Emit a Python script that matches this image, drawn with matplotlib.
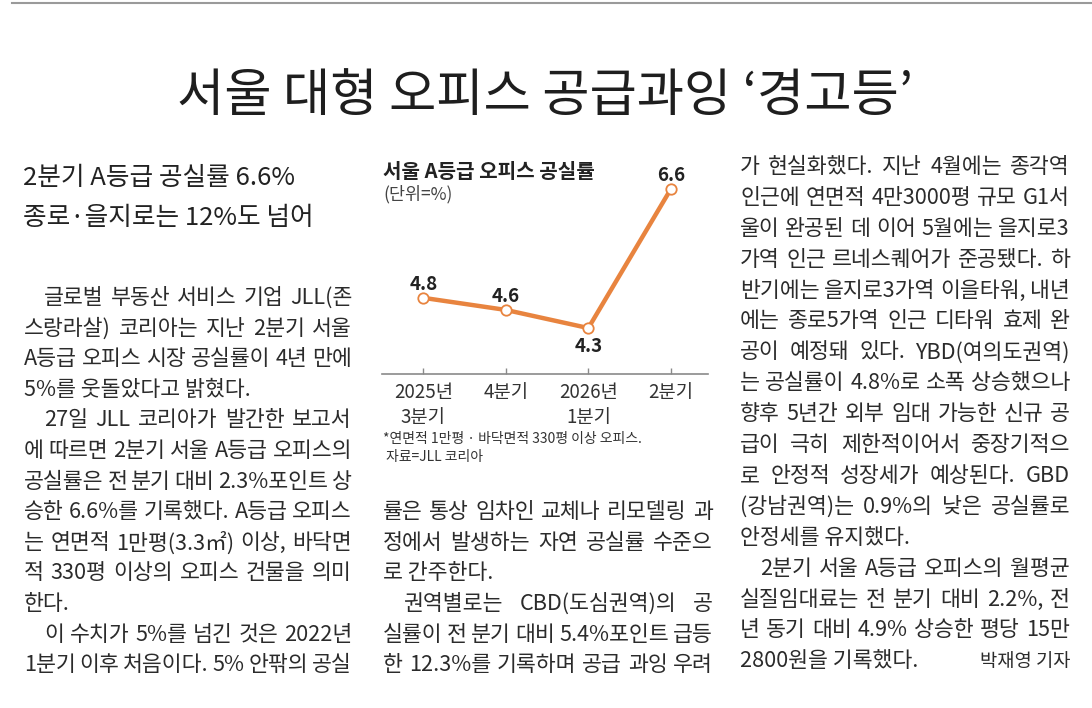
import matplotlib
matplotlib.use('Agg')
import matplotlib.pyplot as plt

plt.rcParams['font.family'] = ['Noto Sans CJK KR', 'DejaVu Sans']

# 차트 데이터
quarters = ['2025년\n3분기', '4분기', '2026년\n1분기', '2분기']
vacancy = [4.8, 4.6, 4.3, 6.6]

headline = '서울 대형 오피스 공급과잉 ‘경고등’'
subhead = ['2분기 A등급 공실률 6.6%', '종로·을지로는 12%도 넘어']
chart_title = '서울 A등급 오피스 공실률'
chart_unit = '(단위=%)'
chart_notes = ['*연면적 1만평 · 바닥면적 330평 이상 오피스.', '자료=JLL 코리아']
byline = '박재영 기자'

# 본문 (문장, 형식) : 'i' 들여쓰기, 'e' 문단 끝(양쪽맞춤 안함)
left_lines = [
    ('글로벌 부동산 서비스 기업 JLL(존', 'i'),
    ('스랑라살) 코리아는 지난 2분기 서울', ''),
    ('A등급 오피스 시장 공실률이 4년 만에', ''),
    ('5%를 웃돌았다고 밝혔다.', 'e'),
    ('27일 JLL 코리아가 발간한 보고서', 'i'),
    ('에 따르면 2분기 서울 A등급 오피스의', ''),
    ('공실률은 전 분기 대비 2.3%포인트 상', ''),
    ('승한 6.6%를 기록했다. A등급 오피스', ''),
    ('는 연면적 1만평(3.3㎡) 이상, 바닥면', ''),
    ('적 330평 이상의 오피스 건물을 의미', ''),
    ('한다.', 'e'),
    ('이 수치가 5%를 넘긴 것은 2022년', 'i'),
    ('1분기 이후 처음이다. 5% 안팎의 공실', ''),
]
mid_lines = [
    ('률은 통상 임차인 교체나 리모델링 과', ''),
    ('정에서 발생하는 자연 공실률 수준으', ''),
    ('로 간주한다.', 'e'),
    ('권역별로는 CBD(도심권역)의 공', 'i'),
    ('실률이 전 분기 대비 5.4%포인트 급등', ''),
    ('한 12.3%를 기록하며 공급 과잉 우려', ''),
]
right_lines = [
    ('가 현실화했다. 지난 4월에는 종각역', ''),
    ('인근에 연면적 4만3000평 규모 G1서', ''),
    ('울이 완공된 데 이어 5월에는 을지로3', ''),
    ('가역 인근 르네스퀘어가 준공됐다. 하', ''),
    ('반기에는 을지로3가역 이을타워, 내년', ''),
    ('에는 종로5가역 인근 디타워 효제 완', ''),
    ('공이 예정돼 있다. YBD(여의도권역)', ''),
    ('는 공실률이 4.8%로 소폭 상승했으나', ''),
    ('향후 5년간 외부 임대 가능한 신규 공', ''),
    ('급이 극히 제한적이어서 중장기적으', ''),
    ('로 안정적 성장세가 예상된다. GBD', ''),
    ('(강남권역)는 0.9%의 낮은 공실률로', ''),
    ('안정세를 유지했다.', 'e'),
    ('2분기 서울 A등급 오피스의 월평균', 'i'),
    ('실질임대료는 전 분기 대비 2.2%, 전', ''),
    ('년 동기 대비 4.9% 상승한 평당 15만', ''),
    ('2800원을 기록했다.', 'e'),
]

W, H = 1092, 708
INK = '#2b2b2b'
ORANGE = '#e8843f'

fig = plt.figure(figsize=(W / 100, H / 100), dpi=100)
fig.patch.set_facecolor('white')
renderer = fig.canvas.get_renderer()


def put(x, y, s, size, **kw):
    kw.setdefault('color', INK)
    kw.setdefault('va', 'center')
    return fig.text(x / W, 1 - y / H, s, fontsize=size, **kw)


def set_line(x0, x1, y, s, size=15.6, style=''):
    if style == 'i':
        x0 += 20
    words = s.split(' ')
    if style == 'e' or len(words) == 1:
        put(x0, y, s, size)
        return
    while True:
        arts = [put(x0, y, w, size) for w in words]
        widths = [a.get_window_extent(renderer=renderer).width for a in arts]
        gap = (x1 - x0 - sum(widths)) / (len(words) - 1)
        if gap >= 3 or size < 11:
            break
        for a in arts:
            a.remove()
        size -= 0.3
    x = x0
    for a, w in zip(arts, widths):
        a.set_x(x / W)
        x += w + gap


# 윗줄
fig.add_artist(plt.Line2D([12 / W, 1], [1 - 3 / H, 1 - 3 / H], color='#9a9a9a', lw=1.5))

# 제목
put(545, 96, headline, 37, ha='center', color='#1e1e1e')
put(23, 178, subhead[0], 18.5, color='#222222')
put(23, 218, subhead[1], 18.5, color='#222222')

# 본문
step = 30.6
for i, (s, st) in enumerate(left_lines):
    set_line(24, 352, 298 + step * i, s, style=st)
for i, (s, st) in enumerate(mid_lines):
    set_line(383, 713, 298 + step * (i + 7), s, style=st)
for i, (s, st) in enumerate(right_lines):
    set_line(740, 1070, 167 + 30.9 * i, s, style=st)
put(1070, 167 + 30.9 * 16, byline, 13.5, ha='right')

# 그래프
ax_l, ax_r, ax_t, ax_b = 382, 708, 160, 374
ax = fig.add_axes([ax_l / W, (H - ax_b) / H, (ax_r - ax_l) / W, (ax_b - ax_t) / H])
ax.set_facecolor('none')
xs = list(range(len(vacancy)))
ax.plot(xs, vacancy, color=ORANGE, lw=3.2, marker='o', ms=7.5, mfc='white',
        mec=ORANGE, mew=1.3, clip_on=False, zorder=3, solid_joinstyle='round')
for x, v in zip(xs, vacancy):
    dy = -13 if v == min(vacancy) else 9.5
    ax.annotate(f'{v}', (x, v), xytext=(0, dy), textcoords='offset points',
                ha='center', va='center', fontsize=13.5, fontweight='bold', color='#222222')
ax.set_xlim(-0.5, 3.45)
ax.set_ylim(3.54, 7.08)
for side in ['top', 'left', 'right']:
    ax.spines[side].set_visible(False)
ax.spines['bottom'].set_color('#8a8a8a')
ax.spines['bottom'].set_linewidth(1.2)
ax.set_yticks([])
ax.set_xticks(xs)
ax.set_xticklabels(quarters, fontsize=13.5, color='#333333', linespacing=1.2)
ax.tick_params(axis='x', direction='in', length=4, width=1, color='#8a8a8a', pad=6)

put(383, 172, chart_title, 14.5, fontweight='bold', color='#222222')
put(383, 194, chart_unit, 12.5, color='#444444')
put(383, 439, chart_notes[0], 10, color='#333333')
put(386, 457, chart_notes[1], 10, color='#333333')

fig.savefig('out.png', dpi=100)
